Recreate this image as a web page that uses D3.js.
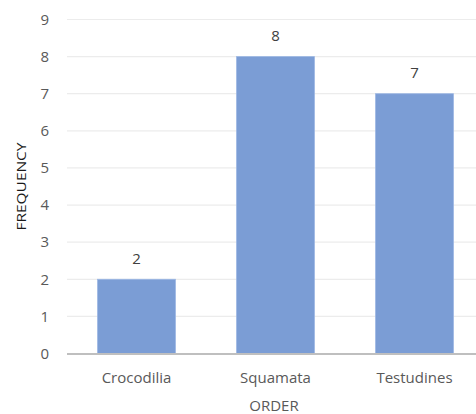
<!DOCTYPE html>
<html>
<head>
<meta charset="utf-8">
<script src="https://cdn.jsdelivr.net/npm/d3@7"></script>
<style>
  body { margin: 0; background: #fff; }
  text { font-family: "Open Sans", sans-serif; fill: #404040; }
</style>
</head>
<body>
<div id="chart"></div>
<script>
// data
const orders = ['Crocodilia', 'Squamata', 'Testudines'];
const frequency = [2, 8, 7];
const yTicks = [0, 1, 2, 3, 4, 5, 6, 7, 8, 9];

const width = 476, height = 414;

const svg = d3.select('#chart')
  .append('svg')
    .attr('width', width)
    .attr('height', height);

const x = d3.scaleBand()
  .domain(orders)
  .range([67, 484])
  .paddingInner(0.44)
  .paddingOuter(0.22);

const y = d3.scaleLinear()
  .domain([0, 9])
  .range([353.5, 19.5]);

// gridlines
svg.append('g')
  .selectAll('line')
  .data(yTicks.filter(d => d > 0))
  .join('line')
    .attr('x1', 67)
    .attr('x2', width)
    .attr('y1', d => y(d))
    .attr('y2', d => y(d))
    .attr('stroke', '#ececec')
    .attr('stroke-width', 1.2);

// bars
svg.append('g')
  .selectAll('rect')
  .data(orders)
  .join('rect')
    .attr('x', d => x(d))
    .attr('width', x.bandwidth())
    .attr('y', (d, i) => y(frequency[i]))
    .attr('height', (d, i) => y(0) - y(frequency[i]))
    .attr('fill', '#7b9dd5')
    .attr('stroke', '#9bb6e3')
    .attr('stroke-width', 0.8);

// baseline
svg.append('line')
  .attr('x1', 67)
  .attr('x2', width)
  .attr('y1', y(0) + 0.5)
  .attr('y2', y(0) + 0.5)
  .attr('stroke', '#bfbfbf')
  .attr('stroke-width', 2);

// y tick labels
svg.append('g')
  .selectAll('text')
  .data(yTicks)
  .join('text')
    .attr('x', 49)
    .attr('y', d => y(d))
    .attr('dy', '0.35em')
    .attr('text-anchor', 'end')
    .style('font-size', '15px')
    .style('fill', '#595959')
    .text(d => d);

// category labels
svg.append('g')
  .selectAll('text')
  .data(orders)
  .join('text')
    .attr('x', d => x(d) + x.bandwidth() / 2)
    .attr('y', 378)
    .attr('dy', '0.35em')
    .attr('text-anchor', 'middle')
    .style('font-size', '15px')
    .style('fill', '#595959')
    .text(d => d);

// value labels
svg.append('g')
  .selectAll('text')
  .data(orders)
  .join('text')
    .attr('x', d => x(d) + x.bandwidth() / 2)
    .attr('y', (d, i) => y(frequency[i]) - 21)
    .attr('dy', '0.35em')
    .attr('text-anchor', 'middle')
    .style('font-size', '15px')
    .text((d, i) => frequency[i]);

// axis titles
svg.append('text')
  .attr('x', 274)
  .attr('y', 406)
  .attr('dy', '0.35em')
  .attr('text-anchor', 'middle')
  .style('font-size', '15px')
  .style('fill', '#595959')
  .text('ORDER');

svg.append('text')
  .attr('transform', `translate(21.5,${(y(0) + y(9)) / 2}) rotate(-90)`)
  .attr('dy', '0.35em')
  .attr('text-anchor', 'middle')
  .attr('textLength', 88)
  .attr('lengthAdjust', 'spacingAndGlyphs')
  .style('font-size', '12px')
  .style('fill', '#1a1a1a')
  .text('FREQUENCY');
</script>
</body>
</html>
